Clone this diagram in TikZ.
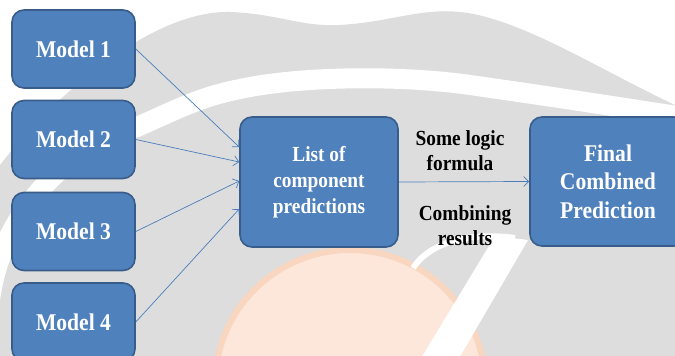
\documentclass[tikz,border=0pt]{standalone}
\usepackage{fontspec}
\newfontfamily\tnr{Liberation Serif}[FakeStretch=0.9,
  BoldFont={Liberation Serif Bold}, BoldFeatures={FakeStretch=0.9}]
\usetikzlibrary{arrows.meta}
\definecolor{boxfill}{HTML}{4F81BD}
\definecolor{boxline}{HTML}{385D8A}
\definecolor{arr}{HTML}{4A7EBB}
\definecolor{wm}{HTML}{DDDDDD}
\definecolor{globe}{HTML}{FCE7DA}
\definecolor{globeedge}{HTML}{F9D6C0}
\tikzset{
  bluebox/.style={draw=boxline, line width=1.6pt, fill=boxfill, rounded corners=12pt,
    text=white, align=center, inner sep=0pt},
  modelbox/.style={bluebox, minimum width=123pt, minimum height=78pt,
    font=\tnr\bfseries\fontsize{24}{28.5}\selectfont},
  conn/.style={draw=arr, line width=0.7pt, -{Straight Barb[length=5pt,width=10pt]}},
  lbl/.style={align=center, text=black, font=\tnr\bfseries\fontsize{21.5}{25}\selectfont, inner sep=0pt}
}
\begin{document}
\begin{tikzpicture}[x=1pt,y=-1pt]
\useasboundingbox (0,0) rectangle (675,356);
\clip (0,0) rectangle (675,356);
% watermark background
\fill[white] (0,0) rectangle (675,356);
\fill[wm] (0,165) .. controls (50,100) and (150,10) .. (230,12)
  .. controls (280,14) and (300,27) .. (340,25)
  .. controls (390,22) and (420,8) .. (460,12)
  .. controls (520,18) and (600,70) .. (675,105) -- (675,356) -- (0,356) -- cycle;
\draw[white, line width=20pt] (-10,300) .. controls (0,220) and (60,150) .. (137,127)
  .. controls (180,108) and (200,97) .. (240,89)
  .. controls (300,76) and (400,75) .. (470,85)
  .. controls (520,92) and (600,104) .. (690,118);
\fill[globe, draw=globeedge, line width=6pt] (350,385) circle (135);
\fill[white] (495,236) -- (528,240) -- (458,360) -- (420,360) -- cycle;
\draw[white, line width=6pt] (413,268) .. controls (430,242) and (470,232) .. (515,238);
% nodes
\node[modelbox] (m1) at (73.5,49) {Model 1};
\node[modelbox] (m2) at (73.5,139.5) {Model 2};
\node[modelbox] (m3) at (73.5,231.5) {Model 3};
\node[modelbox] (m4) at (73.5,322) {Model 4};
\node[bluebox, minimum width=158pt, minimum height=130pt,
  font=\tnr\bfseries\fontsize{21.5}{26}\selectfont] (list) at (319,182)
  {List of\\component\\predictions};
\node[bluebox, minimum width=156pt, minimum height=129pt,
  font=\tnr\bfseries\fontsize{24}{28.5}\selectfont] (final) at (608,181.5)
  {Final\\Combined\\Prediction};
\node[lbl] (logic) at (460,151) {Some logic\\formula};
\node[lbl] (comb) at (465,226) {Combining\\results};
% connectors
\draw[conn] (m1.east) -- ([yshift=35pt]list.west);
\draw[conn] (m2.east) -- ([yshift=20pt]list.west);
\draw[conn] (m3.east) -- ([yshift=1pt]list.west);
\draw[conn] (m4.east) -- ([yshift=-27pt]list.west);
\draw[conn] (list.east) -- (final.west);
\end{tikzpicture}
\end{document}
